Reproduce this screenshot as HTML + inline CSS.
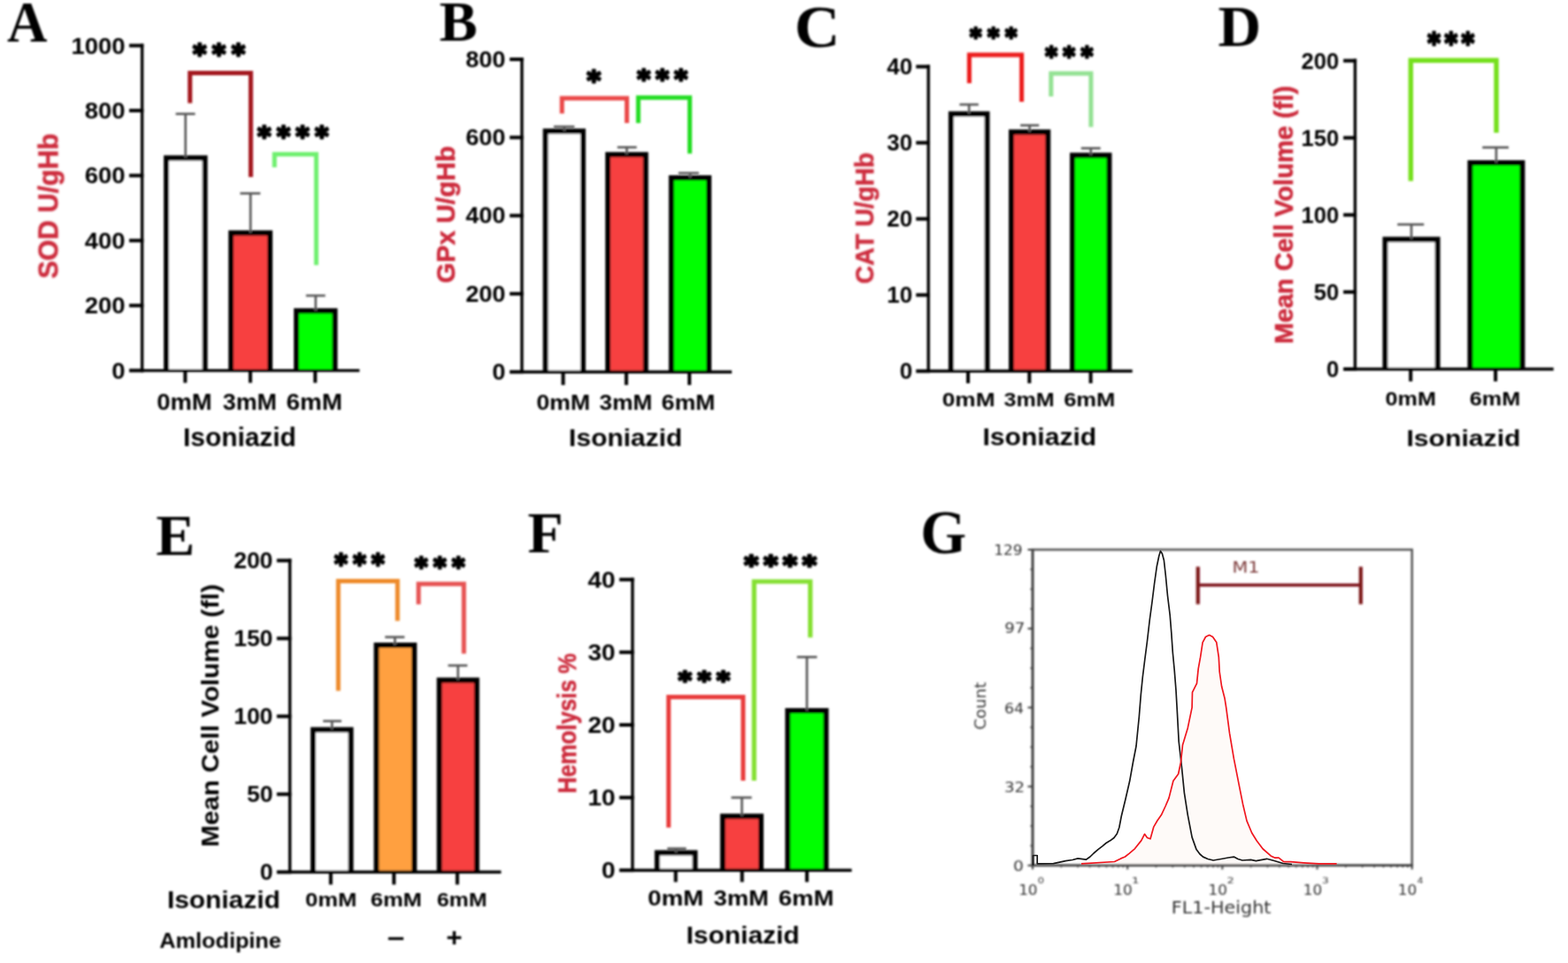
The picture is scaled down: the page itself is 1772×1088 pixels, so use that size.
<!DOCTYPE html>
<html><head><meta charset="utf-8"><title>Figure</title>
<style>
html,body{margin:0;padding:0;background:#fff;}
svg{display:block;}
</style></head>
<body>
<svg width="1772" height="1088" viewBox="0 0 1772 1088">
<defs><filter id="soft" x="0" y="0" width="1772" height="1088" filterUnits="userSpaceOnUse"><feGaussianBlur stdDeviation="0.9"/></filter></defs>
<rect width="1772" height="1088" fill="#fff"/>
<g filter="url(#soft)">
<text transform="translate(7.97,47.20) scale(0.9533,1)" style="font-family:'Liberation Serif', 'Times New Roman', serif;font-weight:bold;font-size:66.06px" fill="#000">A</text>
<text transform="translate(496.47,46.30) scale(1.0047,1)" style="font-family:'Liberation Serif', 'Times New Roman', serif;font-weight:bold;font-size:64.27px" fill="#000">B</text>
<text transform="translate(897.83,52.70) scale(1.0539,1)" style="font-family:'Liberation Serif', 'Times New Roman', serif;font-weight:bold;font-size:67.77px" fill="#000">C</text>
<text transform="translate(1376.62,51.80) scale(1.0327,1)" style="font-family:'Liberation Serif', 'Times New Roman', serif;font-weight:bold;font-size:65.34px" fill="#000">D</text>
<text transform="translate(176.15,627.00) scale(0.9975,1)" style="font-family:'Liberation Serif', 'Times New Roman', serif;font-weight:bold;font-size:66.11px" fill="#000">E</text>
<text transform="translate(596.15,624.20) scale(1.0081,1)" style="font-family:'Liberation Serif', 'Times New Roman', serif;font-weight:bold;font-size:65.34px" fill="#000">F</text>
<text transform="translate(1040.36,625.10) scale(0.9587,1)" style="font-family:'Liberation Serif', 'Times New Roman', serif;font-weight:bold;font-size:69.58px" fill="#000">G</text>
<text transform="translate(126.19,427.73) scale(1.0311,1)" style="font-family:'Liberation Sans', Arial, sans-serif;font-weight:bold;font-size:26.57px" fill="#000">0</text>
<text transform="translate(95.71,354.31) scale(1.0311,1)" style="font-family:'Liberation Sans', Arial, sans-serif;font-weight:bold;font-size:26.57px" fill="#000">200</text>
<text transform="translate(95.71,280.89) scale(1.0311,1)" style="font-family:'Liberation Sans', Arial, sans-serif;font-weight:bold;font-size:26.57px" fill="#000">400</text>
<text transform="translate(95.71,207.47) scale(1.0311,1)" style="font-family:'Liberation Sans', Arial, sans-serif;font-weight:bold;font-size:26.57px" fill="#000">600</text>
<text transform="translate(95.71,134.05) scale(1.0311,1)" style="font-family:'Liberation Sans', Arial, sans-serif;font-weight:bold;font-size:26.57px" fill="#000">800</text>
<text transform="translate(80.50,60.63) scale(1.0311,1)" style="font-family:'Liberation Sans', Arial, sans-serif;font-weight:bold;font-size:26.57px" fill="#000">1000</text>
<rect x="188.00" y="178.50" width="43.60" height="240.10" fill="#ffffff"/>
<path d="M188.00,418.60 V178.50 H231.60 V418.60" fill="none" stroke="#000" stroke-width="5.9" stroke-linejoin="miter"/>
<rect x="261.10" y="263.20" width="44.00" height="155.40" fill="#f7403f"/>
<path d="M261.10,418.60 V263.20 H305.10 V418.60" fill="none" stroke="#000" stroke-width="5.9" stroke-linejoin="miter"/>
<rect x="335.00" y="351.30" width="43.50" height="67.30" fill="#00ff00"/>
<path d="M335.00,418.60 V351.30 H378.50 V418.60" fill="none" stroke="#000" stroke-width="5.9" stroke-linejoin="miter"/>
<line x1="209.65" y1="178.30" x2="209.65" y2="128.70" stroke="#555555" stroke-width="2.6" stroke-linecap="butt"/>
<line x1="198.60" y1="128.70" x2="220.50" y2="128.70" stroke="#555555" stroke-width="2.6" stroke-linecap="butt"/>
<line x1="283.10" y1="263.20" x2="283.10" y2="218.50" stroke="#555555" stroke-width="2.6" stroke-linecap="butt"/>
<line x1="271.40" y1="218.50" x2="294.20" y2="218.50" stroke="#555555" stroke-width="2.6" stroke-linecap="butt"/>
<line x1="356.75" y1="351.30" x2="356.75" y2="334.00" stroke="#555555" stroke-width="2.6" stroke-linecap="butt"/>
<line x1="345.80" y1="334.00" x2="367.60" y2="334.00" stroke="#555555" stroke-width="2.6" stroke-linecap="butt"/>
<path d="M214.70,116.50 L214.70,82.60 L283.40,82.60 L283.40,200.00" stroke="#a3121c" stroke-width="5.0" fill="none" stroke-linejoin="miter" stroke-linecap="butt" />
<path d="M310.20,189.00 L310.20,174.20 L357.40,174.20 L357.40,299.40" stroke="#6ef06e" stroke-width="5.0" fill="none" stroke-linejoin="miter" stroke-linecap="butt" />
<text transform="translate(218.02,70.52) scale(1.0000,1)" style="font-family:'DejaVu Sans', Verdana, sans-serif;font-weight:bold;font-size:29.25px;letter-spacing:6.55px" fill="#000" stroke="#000" stroke-width="2.6" stroke-linejoin="round">***</text>
<text transform="translate(291.02,164.32) scale(1.0000,1)" style="font-family:'DejaVu Sans', Verdana, sans-serif;font-weight:bold;font-size:29.25px;letter-spacing:6.37px" fill="#000" stroke="#000" stroke-width="2.6" stroke-linejoin="round">****</text>
<text transform="translate(65.40,314.81) rotate(-90) scale(0.9773,1)" style="font-family:'Liberation Sans', Arial, sans-serif;font-weight:bold;font-size:31.17px" fill="#cc2c3c" stroke="#cc2c3c" stroke-width="0.5" stroke-linejoin="round">SOD U/gHb</text>
<text transform="translate(177.31,462.70) scale(1.0549,1)" style="font-family:'Liberation Sans', Arial, sans-serif;font-weight:bold;font-size:25.95px" fill="#000">0mM</text>
<text transform="translate(251.80,462.70) scale(1.0323,1)" style="font-family:'Liberation Sans', Arial, sans-serif;font-weight:bold;font-size:25.95px" fill="#000">3mM</text>
<text transform="translate(323.56,462.70) scale(1.0714,1)" style="font-family:'Liberation Sans', Arial, sans-serif;font-weight:bold;font-size:25.95px" fill="#000">6mM</text>
<text transform="translate(207.09,504.40) scale(1.0055,1)" style="font-family:'Liberation Sans', Arial, sans-serif;font-weight:bold;font-size:29.66px" fill="#000">Isoniazid</text>
<text transform="translate(556.20,429.09) scale(1.0431,1)" style="font-family:'Liberation Sans', Arial, sans-serif;font-weight:bold;font-size:25.87px" fill="#000">0</text>
<text transform="translate(526.19,340.79) scale(1.0431,1)" style="font-family:'Liberation Sans', Arial, sans-serif;font-weight:bold;font-size:25.87px" fill="#000">200</text>
<text transform="translate(526.19,252.49) scale(1.0431,1)" style="font-family:'Liberation Sans', Arial, sans-serif;font-weight:bold;font-size:25.87px" fill="#000">400</text>
<text transform="translate(526.19,164.19) scale(1.0431,1)" style="font-family:'Liberation Sans', Arial, sans-serif;font-weight:bold;font-size:25.87px" fill="#000">600</text>
<text transform="translate(526.19,75.89) scale(1.0431,1)" style="font-family:'Liberation Sans', Arial, sans-serif;font-weight:bold;font-size:25.87px" fill="#000">800</text>
<rect x="616.50" y="148.20" width="42.40" height="272.00" fill="#ffffff"/>
<path d="M616.50,420.20 V148.20 H658.90 V420.20" fill="none" stroke="#000" stroke-width="5.9" stroke-linejoin="miter"/>
<rect x="687.00" y="174.60" width="42.70" height="245.60" fill="#f7403f"/>
<path d="M687.00,420.20 V174.60 H729.70 V420.20" fill="none" stroke="#000" stroke-width="5.9" stroke-linejoin="miter"/>
<rect x="758.70" y="200.90" width="42.40" height="219.30" fill="#00ff00"/>
<path d="M758.70,420.20 V200.90 H801.10 V420.20" fill="none" stroke="#000" stroke-width="5.9" stroke-linejoin="miter"/>
<line x1="637.70" y1="148.20" x2="637.70" y2="143.10" stroke="#555555" stroke-width="2.6" stroke-linecap="butt"/>
<line x1="625.80" y1="143.10" x2="649.20" y2="143.10" stroke="#555555" stroke-width="2.6" stroke-linecap="butt"/>
<line x1="708.35" y1="174.60" x2="708.35" y2="166.40" stroke="#555555" stroke-width="2.6" stroke-linecap="butt"/>
<line x1="697.70" y1="166.40" x2="719.50" y2="166.40" stroke="#555555" stroke-width="2.6" stroke-linecap="butt"/>
<line x1="779.90" y1="200.90" x2="779.90" y2="195.50" stroke="#555555" stroke-width="2.6" stroke-linecap="butt"/>
<line x1="766.70" y1="195.50" x2="789.80" y2="195.50" stroke="#555555" stroke-width="2.6" stroke-linecap="butt"/>
<path d="M635.10,128.30 L635.10,111.10 L708.40,111.10 L708.40,139.10" stroke="#ea4646" stroke-width="5.0" fill="none" stroke-linejoin="miter" stroke-linecap="butt" />
<path d="M721.30,139.10 L721.30,110.30 L779.50,110.30 L779.50,173.50" stroke="#22dd22" stroke-width="5.0" fill="none" stroke-linejoin="miter" stroke-linecap="butt" />
<text transform="translate(663.20,101.35) scale(1.0000,1)" style="font-family:'DejaVu Sans', Verdana, sans-serif;font-weight:bold;font-size:30.11px;letter-spacing:0.00px" fill="#000" stroke="#000" stroke-width="2.6" stroke-linejoin="round">*</text>
<text transform="translate(719.92,99.40) scale(1.0000,1)" style="font-family:'DejaVu Sans', Verdana, sans-serif;font-weight:bold;font-size:28.82px;letter-spacing:5.98px" fill="#000" stroke="#000" stroke-width="2.6" stroke-linejoin="round">***</text>
<text transform="translate(514.10,319.89) rotate(-90) scale(1.0053,1)" style="font-family:'Liberation Sans', Arial, sans-serif;font-weight:bold;font-size:29.52px" fill="#cc2c3c" stroke="#cc2c3c" stroke-width="0.5" stroke-linejoin="round">GPx U/gHb</text>
<text transform="translate(606.13,463.20) scale(1.1211,1)" style="font-family:'Liberation Sans', Arial, sans-serif;font-weight:bold;font-size:23.80px" fill="#000">0mM</text>
<text transform="translate(677.31,463.20) scale(1.1064,1)" style="font-family:'Liberation Sans', Arial, sans-serif;font-weight:bold;font-size:23.80px" fill="#000">3mM</text>
<text transform="translate(747.60,463.20) scale(1.1198,1)" style="font-family:'Liberation Sans', Arial, sans-serif;font-weight:bold;font-size:23.80px" fill="#000">6mM</text>
<text transform="translate(642.87,504.10) scale(1.0511,1)" style="font-family:'Liberation Sans', Arial, sans-serif;font-weight:bold;font-size:28.55px" fill="#000">Isoniazid</text>
<text transform="translate(1016.63,428.43) scale(0.9770,1)" style="font-family:'Liberation Sans', Arial, sans-serif;font-weight:bold;font-size:26.57px" fill="#000">0</text>
<text transform="translate(1002.22,342.43) scale(0.9770,1)" style="font-family:'Liberation Sans', Arial, sans-serif;font-weight:bold;font-size:26.57px" fill="#000">10</text>
<text transform="translate(1002.22,256.43) scale(0.9770,1)" style="font-family:'Liberation Sans', Arial, sans-serif;font-weight:bold;font-size:26.57px" fill="#000">20</text>
<text transform="translate(1002.32,170.37) scale(0.9770,1)" style="font-family:'Liberation Sans', Arial, sans-serif;font-weight:bold;font-size:26.48px" fill="#000">30</text>
<text transform="translate(1002.22,84.43) scale(0.9770,1)" style="font-family:'Liberation Sans', Arial, sans-serif;font-weight:bold;font-size:26.57px" fill="#000">40</text>
<rect x="1074.80" y="128.80" width="40.70" height="290.50" fill="#ffffff"/>
<path d="M1074.80,419.30 V128.80 H1115.50 V419.30" fill="none" stroke="#000" stroke-width="5.9" stroke-linejoin="miter"/>
<rect x="1142.90" y="149.30" width="41.40" height="270.00" fill="#f7403f"/>
<path d="M1142.90,419.30 V149.30 H1184.30 V419.30" fill="none" stroke="#000" stroke-width="5.9" stroke-linejoin="miter"/>
<rect x="1212.00" y="175.50" width="41.50" height="243.80" fill="#00ff00"/>
<path d="M1212.00,419.30 V175.50 H1253.50 V419.30" fill="none" stroke="#000" stroke-width="5.9" stroke-linejoin="miter"/>
<line x1="1095.15" y1="128.80" x2="1095.15" y2="118.10" stroke="#555555" stroke-width="2.6" stroke-linecap="butt"/>
<line x1="1084.40" y1="118.10" x2="1105.80" y2="118.10" stroke="#555555" stroke-width="2.6" stroke-linecap="butt"/>
<line x1="1163.60" y1="149.30" x2="1163.60" y2="141.60" stroke="#555555" stroke-width="2.6" stroke-linecap="butt"/>
<line x1="1153.10" y1="141.60" x2="1174.20" y2="141.60" stroke="#555555" stroke-width="2.6" stroke-linecap="butt"/>
<line x1="1232.75" y1="175.50" x2="1232.75" y2="167.50" stroke="#555555" stroke-width="2.6" stroke-linecap="butt"/>
<line x1="1221.80" y1="167.50" x2="1243.70" y2="167.50" stroke="#555555" stroke-width="2.6" stroke-linecap="butt"/>
<path d="M1095.40,94.00 L1095.40,62.00 L1154.60,62.00 L1154.60,115.00" stroke="#ec1a1a" stroke-width="5.0" fill="none" stroke-linejoin="miter" stroke-linecap="butt" />
<path d="M1187.80,109.00 L1187.80,83.00 L1232.90,83.00 L1232.90,143.40" stroke="#93e293" stroke-width="5.0" fill="none" stroke-linejoin="miter" stroke-linecap="butt" />
<text transform="translate(1095.89,50.52) scale(0.9400,1)" style="font-family:'DejaVu Sans', Verdana, sans-serif;font-weight:bold;font-size:27.10px;letter-spacing:7.16px" fill="#000" stroke="#000" stroke-width="2.6" stroke-linejoin="round">***</text>
<text transform="translate(1181.17,72.56) scale(0.9400,1)" style="font-family:'DejaVu Sans', Verdana, sans-serif;font-weight:bold;font-size:27.96px;letter-spacing:6.77px" fill="#000" stroke="#000" stroke-width="2.6" stroke-linejoin="round">***</text>
<text transform="translate(987.20,320.74) rotate(-90) scale(0.9907,1)" style="font-family:'Liberation Sans', Arial, sans-serif;font-weight:bold;font-size:28.83px" fill="#cc2c3c" stroke="#cc2c3c" stroke-width="0.5" stroke-linejoin="round">CAT U/gHb</text>
<text transform="translate(1064.75,459.40) scale(1.1724,1)" style="font-family:'Liberation Sans', Arial, sans-serif;font-weight:bold;font-size:22.37px" fill="#000">0mM</text>
<text transform="translate(1134.54,459.40) scale(1.1201,1)" style="font-family:'Liberation Sans', Arial, sans-serif;font-weight:bold;font-size:22.37px" fill="#000">3mM</text>
<text transform="translate(1202.14,459.40) scale(1.1422,1)" style="font-family:'Liberation Sans', Arial, sans-serif;font-weight:bold;font-size:22.37px" fill="#000">6mM</text>
<text transform="translate(1110.47,502.80) scale(1.0700,1)" style="font-family:'Liberation Sans', Arial, sans-serif;font-weight:bold;font-size:28.14px" fill="#000">Isoniazid</text>
<text transform="translate(1499.04,426.13) scale(0.9618,1)" style="font-family:'Liberation Sans', Arial, sans-serif;font-weight:bold;font-size:26.57px" fill="#000">0</text>
<text transform="translate(1484.85,339.03) scale(0.9618,1)" style="font-family:'Liberation Sans', Arial, sans-serif;font-weight:bold;font-size:26.57px" fill="#000">50</text>
<text transform="translate(1470.61,251.93) scale(0.9618,1)" style="font-family:'Liberation Sans', Arial, sans-serif;font-weight:bold;font-size:26.57px" fill="#000">100</text>
<text transform="translate(1470.61,164.83) scale(0.9618,1)" style="font-family:'Liberation Sans', Arial, sans-serif;font-weight:bold;font-size:26.57px" fill="#000">150</text>
<text transform="translate(1470.61,77.73) scale(0.9618,1)" style="font-family:'Liberation Sans', Arial, sans-serif;font-weight:bold;font-size:26.57px" fill="#000">200</text>
<rect x="1565.40" y="270.50" width="59.20" height="146.50" fill="#ffffff"/>
<path d="M1565.40,417.00 V270.50 H1624.60 V417.00" fill="none" stroke="#000" stroke-width="5.9" stroke-linejoin="miter"/>
<rect x="1661.40" y="184.00" width="59.00" height="233.00" fill="#00ff00"/>
<path d="M1661.40,417.00 V184.00 H1720.40 V417.00" fill="none" stroke="#000" stroke-width="5.9" stroke-linejoin="miter"/>
<line x1="1595.00" y1="270.50" x2="1595.00" y2="253.60" stroke="#555555" stroke-width="2.6" stroke-linecap="butt"/>
<line x1="1579.20" y1="253.60" x2="1609.20" y2="253.60" stroke="#555555" stroke-width="2.6" stroke-linecap="butt"/>
<line x1="1690.90" y1="184.00" x2="1690.90" y2="166.60" stroke="#555555" stroke-width="2.6" stroke-linecap="butt"/>
<line x1="1675.20" y1="166.60" x2="1704.90" y2="166.60" stroke="#555555" stroke-width="2.6" stroke-linecap="butt"/>
<path d="M1594.30,204.40 L1594.30,68.30 L1691.00,68.30 L1691.00,150.10" stroke="#74e01c" stroke-width="5.4" fill="none" stroke-linejoin="miter" stroke-linecap="butt" />
<text transform="translate(1613.24,59.47) scale(0.8600,1)" style="font-family:'DejaVu Sans', Verdana, sans-serif;font-weight:bold;font-size:32.69px;letter-spacing:5.19px" fill="#000" stroke="#000" stroke-width="2.6" stroke-linejoin="round">***</text>
<text transform="translate(1460.70,388.76) rotate(-90) scale(1.0092,1)" style="font-family:'Liberation Sans', Arial, sans-serif;font-weight:bold;font-size:28.83px" fill="#cc2c3c" stroke="#cc2c3c" stroke-width="0.5" stroke-linejoin="round">Mean Cell Volume (fl)</text>
<text transform="translate(1565.59,458.10) scale(1.1250,1)" style="font-family:'Liberation Sans', Arial, sans-serif;font-weight:bold;font-size:22.37px" fill="#000">0mM</text>
<text transform="translate(1660.86,458.10) scale(1.1258,1)" style="font-family:'Liberation Sans', Arial, sans-serif;font-weight:bold;font-size:22.37px" fill="#000">6mM</text>
<text transform="translate(1589.46,503.60) scale(1.1882,1)" style="font-family:'Liberation Sans', Arial, sans-serif;font-weight:bold;font-size:25.38px" fill="#000">Isoniazid</text>
<text transform="translate(293.64,994.24) scale(1.0196,1)" style="font-family:'Liberation Sans', Arial, sans-serif;font-weight:bold;font-size:26.01px" fill="#000">0</text>
<text transform="translate(278.93,906.24) scale(1.0196,1)" style="font-family:'Liberation Sans', Arial, sans-serif;font-weight:bold;font-size:26.01px" fill="#000">50</text>
<text transform="translate(264.14,818.24) scale(1.0196,1)" style="font-family:'Liberation Sans', Arial, sans-serif;font-weight:bold;font-size:26.01px" fill="#000">100</text>
<text transform="translate(264.14,730.24) scale(1.0196,1)" style="font-family:'Liberation Sans', Arial, sans-serif;font-weight:bold;font-size:26.01px" fill="#000">150</text>
<text transform="translate(264.14,642.24) scale(1.0196,1)" style="font-family:'Liberation Sans', Arial, sans-serif;font-weight:bold;font-size:26.01px" fill="#000">200</text>
<rect x="353.90" y="824.50" width="42.60" height="160.80" fill="#ffffff"/>
<path d="M353.90,985.30 V824.50 H396.50 V985.30" fill="none" stroke="#000" stroke-width="5.9" stroke-linejoin="miter"/>
<rect x="425.40" y="729.00" width="42.80" height="256.30" fill="#ffa040"/>
<path d="M425.40,985.30 V729.00 H468.20 V985.30" fill="none" stroke="#000" stroke-width="5.9" stroke-linejoin="miter"/>
<rect x="496.50" y="768.50" width="42.30" height="216.80" fill="#f7403f"/>
<path d="M496.50,985.30 V768.50 H538.80 V985.30" fill="none" stroke="#000" stroke-width="5.9" stroke-linejoin="miter"/>
<line x1="375.20" y1="824.50" x2="375.20" y2="814.70" stroke="#555555" stroke-width="2.6" stroke-linecap="butt"/>
<line x1="365.10" y1="814.70" x2="385.90" y2="814.70" stroke="#555555" stroke-width="2.6" stroke-linecap="butt"/>
<line x1="446.30" y1="729.00" x2="446.30" y2="719.80" stroke="#555555" stroke-width="2.6" stroke-linecap="butt"/>
<line x1="435.10" y1="719.80" x2="457.20" y2="719.80" stroke="#555555" stroke-width="2.6" stroke-linecap="butt"/>
<line x1="517.60" y1="768.50" x2="517.60" y2="751.90" stroke="#555555" stroke-width="2.6" stroke-linecap="butt"/>
<line x1="506.40" y1="751.90" x2="528.20" y2="751.90" stroke="#555555" stroke-width="2.6" stroke-linecap="butt"/>
<path d="M382.30,780.60 L382.30,656.60 L449.20,656.60 L449.20,701.50" stroke="#ee8a2c" stroke-width="5.0" fill="none" stroke-linejoin="miter" stroke-linecap="butt" />
<path d="M473.00,682.70 L473.00,659.80 L524.20,659.80 L524.20,738.50" stroke="#e65252" stroke-width="5.0" fill="none" stroke-linejoin="miter" stroke-linecap="butt" />
<text transform="translate(378.04,647.04) scale(0.9500,1)" style="font-family:'DejaVu Sans', Verdana, sans-serif;font-weight:bold;font-size:29.68px;letter-spacing:6.48px" fill="#000" stroke="#000" stroke-width="2.6" stroke-linejoin="round">***</text>
<text transform="translate(468.84,649.60) scale(0.9700,1)" style="font-family:'DejaVu Sans', Verdana, sans-serif;font-weight:bold;font-size:28.82px;letter-spacing:6.48px" fill="#000" stroke="#000" stroke-width="2.6" stroke-linejoin="round">***</text>
<text transform="translate(246.90,956.90) rotate(-90) scale(1.0464,1)" style="font-family:'Liberation Sans', Arial, sans-serif;font-weight:bold;font-size:28.28px" fill="#000">Mean Cell Volume (fl)</text>
<text transform="translate(188.88,1026.30) scale(1.0890,1)" style="font-family:'Liberation Sans', Arial, sans-serif;font-weight:bold;font-size:27.45px" fill="#000">Isoniazid</text>
<text transform="translate(345.08,1023.70) scale(1.1715,1)" style="font-family:'Liberation Sans', Arial, sans-serif;font-weight:bold;font-size:21.79px" fill="#000">0mM</text>
<text transform="translate(418.74,1023.70) scale(1.1702,1)" style="font-family:'Liberation Sans', Arial, sans-serif;font-weight:bold;font-size:21.79px" fill="#000">6mM</text>
<text transform="translate(493.77,1023.70) scale(1.1406,1)" style="font-family:'Liberation Sans', Arial, sans-serif;font-weight:bold;font-size:21.79px" fill="#000">6mM</text>
<text transform="translate(180.37,1071.40) scale(1.0172,1)" style="font-family:'Liberation Sans', Arial, sans-serif;font-weight:bold;font-size:24.83px" fill="#000">Amlodipine</text>
<text transform="translate(437.76,1068.76) scale(1.0859,1)" style="font-family:'Liberation Sans', Arial, sans-serif;font-weight:bold;font-size:32.00px" fill="#000">–</text>
<text transform="translate(504.17,1068.99) scale(1.0920,1)" style="font-family:'Liberation Sans', Arial, sans-serif;font-weight:bold;font-size:28.57px" fill="#000">+</text>
<text transform="translate(679.79,992.14) scale(1.0830,1)" style="font-family:'Liberation Sans', Arial, sans-serif;font-weight:bold;font-size:26.01px" fill="#000">0</text>
<text transform="translate(664.16,910.04) scale(1.0830,1)" style="font-family:'Liberation Sans', Arial, sans-serif;font-weight:bold;font-size:26.01px" fill="#000">10</text>
<text transform="translate(664.16,827.94) scale(1.0830,1)" style="font-family:'Liberation Sans', Arial, sans-serif;font-weight:bold;font-size:26.01px" fill="#000">20</text>
<text transform="translate(664.27,745.78) scale(1.0830,1)" style="font-family:'Liberation Sans', Arial, sans-serif;font-weight:bold;font-size:25.92px" fill="#000">30</text>
<text transform="translate(664.16,663.74) scale(1.0830,1)" style="font-family:'Liberation Sans', Arial, sans-serif;font-weight:bold;font-size:26.01px" fill="#000">40</text>
<rect x="742.70" y="963.50" width="42.70" height="19.70" fill="#ffffff"/>
<path d="M742.70,983.20 V963.50 H785.40 V983.20" fill="none" stroke="#000" stroke-width="5.9" stroke-linejoin="miter"/>
<rect x="816.80" y="922.30" width="43.20" height="60.90" fill="#f7403f"/>
<path d="M816.80,983.20 V922.30 H860.00 V983.20" fill="none" stroke="#000" stroke-width="5.9" stroke-linejoin="miter"/>
<rect x="890.25" y="803.00" width="43.25" height="180.20" fill="#00ff00"/>
<path d="M890.25,983.20 V803.00 H933.50 V983.20" fill="none" stroke="#000" stroke-width="5.9" stroke-linejoin="miter"/>
<line x1="764.05" y1="963.50" x2="764.05" y2="958.70" stroke="#555555" stroke-width="2.6" stroke-linecap="butt"/>
<line x1="754.10" y1="958.70" x2="775.50" y2="958.70" stroke="#555555" stroke-width="2.6" stroke-linecap="butt"/>
<line x1="838.40" y1="922.30" x2="838.40" y2="901.10" stroke="#555555" stroke-width="2.6" stroke-linecap="butt"/>
<line x1="826.40" y1="901.10" x2="849.50" y2="901.10" stroke="#555555" stroke-width="2.6" stroke-linecap="butt"/>
<line x1="911.90" y1="803.00" x2="911.90" y2="742.30" stroke="#555555" stroke-width="2.6" stroke-linecap="butt"/>
<line x1="900.70" y1="742.30" x2="923.30" y2="742.30" stroke="#555555" stroke-width="2.6" stroke-linecap="butt"/>
<path d="M755.60,935.10 L755.60,787.50 L839.80,787.50 L839.80,881.90" stroke="#e83a3a" stroke-width="5.0" fill="none" stroke-linejoin="miter" stroke-linecap="butt" />
<path d="M852.20,881.90 L852.20,657.00 L915.70,657.00 L915.70,720.20" stroke="#84e032" stroke-width="5.2" fill="none" stroke-linejoin="miter" stroke-linecap="butt" />
<text transform="translate(766.52,778.24) scale(1.1000,1)" style="font-family:'DejaVu Sans', Verdana, sans-serif;font-weight:bold;font-size:26.45px;letter-spacing:5.83px" fill="#000" stroke="#000" stroke-width="2.6" stroke-linejoin="round">***</text>
<text transform="translate(841.08,647.64) scale(1.1200,1)" style="font-family:'DejaVu Sans', Verdana, sans-serif;font-weight:bold;font-size:27.53px;letter-spacing:5.14px" fill="#000" stroke="#000" stroke-width="2.6" stroke-linejoin="round">****</text>
<text transform="translate(651.10,896.53) rotate(-90) scale(0.8659,1)" style="font-family:'Liberation Sans', Arial, sans-serif;font-weight:bold;font-size:29.66px" fill="#cc2c3c" stroke="#cc2c3c" stroke-width="0.5" stroke-linejoin="round">Hemolysis %</text>
<text transform="translate(731.99,1023.10) scale(1.2019,1)" style="font-family:'Liberation Sans', Arial, sans-serif;font-weight:bold;font-size:23.08px" fill="#000">0mM</text>
<text transform="translate(806.59,1023.10) scale(1.1823,1)" style="font-family:'Liberation Sans', Arial, sans-serif;font-weight:bold;font-size:23.08px" fill="#000">3mM</text>
<text transform="translate(879.77,1023.10) scale(1.1905,1)" style="font-family:'Liberation Sans', Arial, sans-serif;font-weight:bold;font-size:23.08px" fill="#000">6mM</text>
<text transform="translate(775.48,1066.10) scale(1.1140,1)" style="font-family:'Liberation Sans', Arial, sans-serif;font-weight:bold;font-size:26.90px" fill="#000">Isoniazid</text>
<path d="M1222.0,975.8 L1259.5,973.5 L1266.8,969.9 L1271.4,968.0 L1276.0,964.3 L1282.5,958.8 L1289.8,949.6 L1293.5,942.3 L1296.5,946.5 L1300.0,947.8 L1303.7,934.4 L1308.0,927.0 L1312.4,920.8 L1317.0,911.0 L1321.0,901.6 L1325.9,882.3 L1331.6,874.5 L1334.5,861.0 L1336.5,841.7 L1342.3,822.4 L1347.1,799.3 L1347.5,782.1 L1352.5,772.1 L1354.2,755.6 L1356.6,742.4 L1359.1,725.8 L1362.5,719.5 L1366.6,717.5 L1370.5,719.5 L1374.8,725.8 L1377.3,742.4 L1378.2,759.0 L1380.6,775.5 L1384.0,788.7 L1385.7,799.3 L1389.5,828.2 L1394.4,857.2 L1400.1,886.1 L1404.5,908.2 L1409.0,927.4 L1414.7,941.0 L1420.3,950.0 L1427.1,959.0 L1436.1,966.9 L1441.0,969.2 L1445.1,969.2 L1450.8,973.7 L1458.7,973.7 L1473.4,974.8 L1490.3,975.9 L1510.6,975.9 L1510.6,977.8 L1222,977.8 Z" stroke="none" stroke-width="0" fill="#fefaf8" stroke-linejoin="miter" stroke-linecap="butt" />
<rect x="1167.0" y="621.0" width="428.7" height="356.8" fill="none" stroke="#555555" stroke-width="2.5"/>
<line x1="1167.00" y1="620.00" x2="1167.00" y2="978.80" stroke="#3c3c3c" stroke-width="2.6" stroke-linecap="butt"/>
<line x1="1166.00" y1="977.80" x2="1596.70" y2="977.80" stroke="#3c3c3c" stroke-width="2.6" stroke-linecap="butt"/>
<line x1="1161.50" y1="977.80" x2="1167.00" y2="977.80" stroke="#3c3c3c" stroke-width="2" stroke-linecap="butt"/>
<line x1="1164.50" y1="955.50" x2="1167.00" y2="955.50" stroke="#3c3c3c" stroke-width="1.8" stroke-linecap="butt"/>
<line x1="1164.50" y1="933.20" x2="1167.00" y2="933.20" stroke="#3c3c3c" stroke-width="1.8" stroke-linecap="butt"/>
<line x1="1164.50" y1="910.90" x2="1167.00" y2="910.90" stroke="#3c3c3c" stroke-width="1.8" stroke-linecap="butt"/>
<line x1="1161.50" y1="888.60" x2="1167.00" y2="888.60" stroke="#3c3c3c" stroke-width="2" stroke-linecap="butt"/>
<line x1="1164.50" y1="866.30" x2="1167.00" y2="866.30" stroke="#3c3c3c" stroke-width="1.8" stroke-linecap="butt"/>
<line x1="1164.50" y1="844.00" x2="1167.00" y2="844.00" stroke="#3c3c3c" stroke-width="1.8" stroke-linecap="butt"/>
<line x1="1164.50" y1="821.70" x2="1167.00" y2="821.70" stroke="#3c3c3c" stroke-width="1.8" stroke-linecap="butt"/>
<line x1="1161.50" y1="799.40" x2="1167.00" y2="799.40" stroke="#3c3c3c" stroke-width="2" stroke-linecap="butt"/>
<line x1="1164.50" y1="777.10" x2="1167.00" y2="777.10" stroke="#3c3c3c" stroke-width="1.8" stroke-linecap="butt"/>
<line x1="1164.50" y1="754.80" x2="1167.00" y2="754.80" stroke="#3c3c3c" stroke-width="1.8" stroke-linecap="butt"/>
<line x1="1164.50" y1="732.50" x2="1167.00" y2="732.50" stroke="#3c3c3c" stroke-width="1.8" stroke-linecap="butt"/>
<line x1="1161.50" y1="710.20" x2="1167.00" y2="710.20" stroke="#3c3c3c" stroke-width="2" stroke-linecap="butt"/>
<line x1="1164.50" y1="687.90" x2="1167.00" y2="687.90" stroke="#3c3c3c" stroke-width="1.8" stroke-linecap="butt"/>
<line x1="1164.50" y1="665.60" x2="1167.00" y2="665.60" stroke="#3c3c3c" stroke-width="1.8" stroke-linecap="butt"/>
<line x1="1164.50" y1="643.30" x2="1167.00" y2="643.30" stroke="#3c3c3c" stroke-width="1.8" stroke-linecap="butt"/>
<line x1="1161.50" y1="621.00" x2="1167.00" y2="621.00" stroke="#3c3c3c" stroke-width="2" stroke-linecap="butt"/>
<line x1="1167.00" y1="977.80" x2="1167.00" y2="982.30" stroke="#3c3c3c" stroke-width="2" stroke-linecap="butt"/>
<line x1="1199.26" y1="977.80" x2="1199.26" y2="980.00" stroke="#3c3c3c" stroke-width="1.6" stroke-linecap="butt"/>
<line x1="1218.14" y1="977.80" x2="1218.14" y2="980.00" stroke="#3c3c3c" stroke-width="1.6" stroke-linecap="butt"/>
<line x1="1231.53" y1="977.80" x2="1231.53" y2="980.00" stroke="#3c3c3c" stroke-width="1.6" stroke-linecap="butt"/>
<line x1="1241.91" y1="977.80" x2="1241.91" y2="980.00" stroke="#3c3c3c" stroke-width="1.6" stroke-linecap="butt"/>
<line x1="1250.40" y1="977.80" x2="1250.40" y2="980.00" stroke="#3c3c3c" stroke-width="1.6" stroke-linecap="butt"/>
<line x1="1257.57" y1="977.80" x2="1257.57" y2="980.00" stroke="#3c3c3c" stroke-width="1.6" stroke-linecap="butt"/>
<line x1="1263.79" y1="977.80" x2="1263.79" y2="980.00" stroke="#3c3c3c" stroke-width="1.6" stroke-linecap="butt"/>
<line x1="1269.27" y1="977.80" x2="1269.27" y2="980.00" stroke="#3c3c3c" stroke-width="1.6" stroke-linecap="butt"/>
<line x1="1274.17" y1="977.80" x2="1274.17" y2="982.30" stroke="#3c3c3c" stroke-width="2" stroke-linecap="butt"/>
<line x1="1306.44" y1="977.80" x2="1306.44" y2="980.00" stroke="#3c3c3c" stroke-width="1.6" stroke-linecap="butt"/>
<line x1="1325.31" y1="977.80" x2="1325.31" y2="980.00" stroke="#3c3c3c" stroke-width="1.6" stroke-linecap="butt"/>
<line x1="1338.70" y1="977.80" x2="1338.70" y2="980.00" stroke="#3c3c3c" stroke-width="1.6" stroke-linecap="butt"/>
<line x1="1349.09" y1="977.80" x2="1349.09" y2="980.00" stroke="#3c3c3c" stroke-width="1.6" stroke-linecap="butt"/>
<line x1="1357.57" y1="977.80" x2="1357.57" y2="980.00" stroke="#3c3c3c" stroke-width="1.6" stroke-linecap="butt"/>
<line x1="1364.75" y1="977.80" x2="1364.75" y2="980.00" stroke="#3c3c3c" stroke-width="1.6" stroke-linecap="butt"/>
<line x1="1370.96" y1="977.80" x2="1370.96" y2="980.00" stroke="#3c3c3c" stroke-width="1.6" stroke-linecap="butt"/>
<line x1="1376.45" y1="977.80" x2="1376.45" y2="980.00" stroke="#3c3c3c" stroke-width="1.6" stroke-linecap="butt"/>
<line x1="1381.35" y1="977.80" x2="1381.35" y2="982.30" stroke="#3c3c3c" stroke-width="2" stroke-linecap="butt"/>
<line x1="1413.61" y1="977.80" x2="1413.61" y2="980.00" stroke="#3c3c3c" stroke-width="1.6" stroke-linecap="butt"/>
<line x1="1432.49" y1="977.80" x2="1432.49" y2="980.00" stroke="#3c3c3c" stroke-width="1.6" stroke-linecap="butt"/>
<line x1="1445.88" y1="977.80" x2="1445.88" y2="980.00" stroke="#3c3c3c" stroke-width="1.6" stroke-linecap="butt"/>
<line x1="1456.26" y1="977.80" x2="1456.26" y2="980.00" stroke="#3c3c3c" stroke-width="1.6" stroke-linecap="butt"/>
<line x1="1464.75" y1="977.80" x2="1464.75" y2="980.00" stroke="#3c3c3c" stroke-width="1.6" stroke-linecap="butt"/>
<line x1="1471.92" y1="977.80" x2="1471.92" y2="980.00" stroke="#3c3c3c" stroke-width="1.6" stroke-linecap="butt"/>
<line x1="1478.14" y1="977.80" x2="1478.14" y2="980.00" stroke="#3c3c3c" stroke-width="1.6" stroke-linecap="butt"/>
<line x1="1483.62" y1="977.80" x2="1483.62" y2="980.00" stroke="#3c3c3c" stroke-width="1.6" stroke-linecap="butt"/>
<line x1="1488.53" y1="977.80" x2="1488.53" y2="982.30" stroke="#3c3c3c" stroke-width="2" stroke-linecap="butt"/>
<line x1="1520.79" y1="977.80" x2="1520.79" y2="980.00" stroke="#3c3c3c" stroke-width="1.6" stroke-linecap="butt"/>
<line x1="1539.66" y1="977.80" x2="1539.66" y2="980.00" stroke="#3c3c3c" stroke-width="1.6" stroke-linecap="butt"/>
<line x1="1553.05" y1="977.80" x2="1553.05" y2="980.00" stroke="#3c3c3c" stroke-width="1.6" stroke-linecap="butt"/>
<line x1="1563.44" y1="977.80" x2="1563.44" y2="980.00" stroke="#3c3c3c" stroke-width="1.6" stroke-linecap="butt"/>
<line x1="1571.92" y1="977.80" x2="1571.92" y2="980.00" stroke="#3c3c3c" stroke-width="1.6" stroke-linecap="butt"/>
<line x1="1579.10" y1="977.80" x2="1579.10" y2="980.00" stroke="#3c3c3c" stroke-width="1.6" stroke-linecap="butt"/>
<line x1="1585.31" y1="977.80" x2="1585.31" y2="980.00" stroke="#3c3c3c" stroke-width="1.6" stroke-linecap="butt"/>
<line x1="1590.80" y1="977.80" x2="1590.80" y2="980.00" stroke="#3c3c3c" stroke-width="1.6" stroke-linecap="butt"/>
<line x1="1595.70" y1="977.80" x2="1595.70" y2="982.30" stroke="#3c3c3c" stroke-width="2" stroke-linecap="butt"/>
<line x1="1353.80" y1="661.00" x2="1537.80" y2="661.00" stroke="#7d1418" stroke-width="3.4" stroke-linecap="butt"/>
<line x1="1353.80" y1="640.30" x2="1353.80" y2="682.60" stroke="#7d1418" stroke-width="4.2" stroke-linecap="butt"/>
<line x1="1537.80" y1="640.30" x2="1537.80" y2="682.60" stroke="#7d1418" stroke-width="4.2" stroke-linecap="butt"/>
<text transform="translate(1392.38,647.20) scale(1.1617,1)" style="font-family:'DejaVu Sans', Verdana, sans-serif;font-weight:normal;font-size:17.81px" fill="#7c3a3a">M1</text>
<text transform="translate(1123.34,627.15) scale(1.1256,1)" style="font-family:'DejaVu Sans', Verdana, sans-serif;font-weight:normal;font-size:15.02px" fill="#333333">129</text>
<text transform="translate(1135.17,715.15) scale(1.2075,1)" style="font-family:'DejaVu Sans', Verdana, sans-serif;font-weight:normal;font-size:15.02px" fill="#333333">97</text>
<text transform="translate(1135.09,805.65) scale(1.1548,1)" style="font-family:'DejaVu Sans', Verdana, sans-serif;font-weight:normal;font-size:15.02px" fill="#333333">64</text>
<text transform="translate(1134.94,895.15) scale(1.2075,1)" style="font-family:'DejaVu Sans', Verdana, sans-serif;font-weight:normal;font-size:15.02px" fill="#333333">32</text>
<text transform="translate(1145.09,983.65) scale(1.2395,1)" style="font-family:'DejaVu Sans', Verdana, sans-serif;font-weight:normal;font-size:15.02px" fill="#333333">0</text>
<text transform="translate(1151.15,1010.85) scale(1.1027,1)" style="font-family:'DejaVu Sans', Verdana, sans-serif;font-weight:normal;font-size:15.29px" fill="#333333">10</text>
<text transform="translate(1172.65,997.70) scale(1.3754,1)" style="font-family:'DejaVu Sans', Verdana, sans-serif;font-weight:normal;font-size:8.35px" fill="#333333">0</text>
<text transform="translate(1258.32,1010.85) scale(1.1027,1)" style="font-family:'DejaVu Sans', Verdana, sans-serif;font-weight:normal;font-size:15.29px" fill="#333333">10</text>
<text transform="translate(1279.11,997.70) scale(1.5699,1)" style="font-family:'DejaVu Sans', Verdana, sans-serif;font-weight:normal;font-size:8.49px" fill="#333333">1</text>
<text transform="translate(1365.50,1010.85) scale(1.1027,1)" style="font-family:'DejaVu Sans', Verdana, sans-serif;font-weight:normal;font-size:15.29px" fill="#333333">10</text>
<text transform="translate(1386.84,997.70) scale(1.5018,1)" style="font-family:'DejaVu Sans', Verdana, sans-serif;font-weight:normal;font-size:8.35px" fill="#333333">2</text>
<text transform="translate(1472.67,1010.85) scale(1.1027,1)" style="font-family:'DejaVu Sans', Verdana, sans-serif;font-weight:normal;font-size:15.29px" fill="#333333">10</text>
<text transform="translate(1494.02,997.70) scale(1.4471,1)" style="font-family:'DejaVu Sans', Verdana, sans-serif;font-weight:normal;font-size:8.35px" fill="#333333">3</text>
<text transform="translate(1579.85,1010.85) scale(1.1027,1)" style="font-family:'DejaVu Sans', Verdana, sans-serif;font-weight:normal;font-size:15.29px" fill="#333333">10</text>
<text transform="translate(1601.55,997.70) scale(1.2885,1)" style="font-family:'DejaVu Sans', Verdana, sans-serif;font-weight:normal;font-size:8.49px" fill="#333333">4</text>
<text transform="translate(1114.10,824.60) rotate(-90) scale(1.0066,1)" style="font-family:'DejaVu Sans', Verdana, sans-serif;font-weight:normal;font-size:18.05px" fill="#333">Count</text>
<text transform="translate(1323.78,1032.20) scale(1.0372,1)" style="font-family:'DejaVu Sans', Verdana, sans-serif;font-weight:normal;font-size:20.00px" fill="#333">FL1-Height</text>
<line x1="160.60" y1="49.50" x2="160.60" y2="420.30" stroke="#000" stroke-width="3.4"/>
<line x1="146.00" y1="418.60" x2="162.30" y2="418.60" stroke="#000" stroke-width="4.0"/>
<line x1="146.00" y1="345.18" x2="162.30" y2="345.18" stroke="#000" stroke-width="4.0"/>
<line x1="146.00" y1="271.76" x2="162.30" y2="271.76" stroke="#000" stroke-width="4.0"/>
<line x1="146.00" y1="198.34" x2="162.30" y2="198.34" stroke="#000" stroke-width="4.0"/>
<line x1="146.00" y1="124.92" x2="162.30" y2="124.92" stroke="#000" stroke-width="4.0"/>
<line x1="146.00" y1="51.50" x2="162.30" y2="51.50" stroke="#000" stroke-width="4.0"/>
<line x1="158.90" y1="418.60" x2="406.30" y2="418.60" stroke="#000" stroke-width="3.4"/>
<line x1="209.30" y1="418.60" x2="209.30" y2="432.50" stroke="#000" stroke-width="4.0"/>
<line x1="282.90" y1="418.60" x2="282.90" y2="432.50" stroke="#000" stroke-width="4.0"/>
<line x1="356.20" y1="418.60" x2="356.20" y2="432.50" stroke="#000" stroke-width="4.0"/>
<line x1="589.80" y1="65.00" x2="589.80" y2="421.90" stroke="#000" stroke-width="3.4"/>
<line x1="576.00" y1="420.20" x2="591.50" y2="420.20" stroke="#000" stroke-width="4.0"/>
<line x1="576.00" y1="331.90" x2="591.50" y2="331.90" stroke="#000" stroke-width="4.0"/>
<line x1="576.00" y1="243.60" x2="591.50" y2="243.60" stroke="#000" stroke-width="4.0"/>
<line x1="576.00" y1="155.30" x2="591.50" y2="155.30" stroke="#000" stroke-width="4.0"/>
<line x1="576.00" y1="67.00" x2="591.50" y2="67.00" stroke="#000" stroke-width="4.0"/>
<line x1="588.10" y1="420.20" x2="827.00" y2="420.20" stroke="#000" stroke-width="3.4"/>
<line x1="636.40" y1="420.20" x2="636.40" y2="435.00" stroke="#000" stroke-width="4.0"/>
<line x1="707.80" y1="420.20" x2="707.80" y2="435.00" stroke="#000" stroke-width="4.0"/>
<line x1="779.10" y1="420.20" x2="779.10" y2="435.00" stroke="#000" stroke-width="4.0"/>
<line x1="1049.20" y1="73.30" x2="1049.20" y2="421.00" stroke="#000" stroke-width="3.4"/>
<line x1="1035.20" y1="419.30" x2="1050.90" y2="419.30" stroke="#000" stroke-width="4.0"/>
<line x1="1035.20" y1="333.30" x2="1050.90" y2="333.30" stroke="#000" stroke-width="4.0"/>
<line x1="1035.20" y1="247.30" x2="1050.90" y2="247.30" stroke="#000" stroke-width="4.0"/>
<line x1="1035.20" y1="161.30" x2="1050.90" y2="161.30" stroke="#000" stroke-width="4.0"/>
<line x1="1035.20" y1="75.30" x2="1050.90" y2="75.30" stroke="#000" stroke-width="4.0"/>
<line x1="1047.50" y1="419.30" x2="1279.70" y2="419.30" stroke="#000" stroke-width="3.4"/>
<line x1="1094.00" y1="419.30" x2="1094.00" y2="433.00" stroke="#000" stroke-width="4.0"/>
<line x1="1163.30" y1="419.30" x2="1163.30" y2="433.00" stroke="#000" stroke-width="4.0"/>
<line x1="1232.60" y1="419.30" x2="1232.60" y2="433.00" stroke="#000" stroke-width="4.0"/>
<line x1="1531.40" y1="66.60" x2="1531.40" y2="418.70" stroke="#000" stroke-width="3.4"/>
<line x1="1518.10" y1="417.00" x2="1533.10" y2="417.00" stroke="#000" stroke-width="4.0"/>
<line x1="1518.10" y1="329.90" x2="1533.10" y2="329.90" stroke="#000" stroke-width="4.0"/>
<line x1="1518.10" y1="242.80" x2="1533.10" y2="242.80" stroke="#000" stroke-width="4.0"/>
<line x1="1518.10" y1="155.70" x2="1533.10" y2="155.70" stroke="#000" stroke-width="4.0"/>
<line x1="1518.10" y1="68.60" x2="1533.10" y2="68.60" stroke="#000" stroke-width="4.0"/>
<line x1="1529.70" y1="417.00" x2="1755.70" y2="417.00" stroke="#000" stroke-width="3.4"/>
<line x1="1594.20" y1="417.00" x2="1594.20" y2="430.90" stroke="#000" stroke-width="4.0"/>
<line x1="1690.10" y1="417.00" x2="1690.10" y2="430.90" stroke="#000" stroke-width="4.0"/>
<line x1="327.60" y1="631.30" x2="327.60" y2="987.00" stroke="#000" stroke-width="3.4"/>
<line x1="312.80" y1="985.30" x2="329.30" y2="985.30" stroke="#000" stroke-width="4.0"/>
<line x1="312.80" y1="897.30" x2="329.30" y2="897.30" stroke="#000" stroke-width="4.0"/>
<line x1="312.80" y1="809.30" x2="329.30" y2="809.30" stroke="#000" stroke-width="4.0"/>
<line x1="312.80" y1="721.30" x2="329.30" y2="721.30" stroke="#000" stroke-width="4.0"/>
<line x1="312.80" y1="633.30" x2="329.30" y2="633.30" stroke="#000" stroke-width="4.0"/>
<line x1="325.90" y1="985.30" x2="566.30" y2="985.30" stroke="#000" stroke-width="3.4"/>
<line x1="373.80" y1="985.30" x2="373.80" y2="999.40" stroke="#000" stroke-width="4.0"/>
<line x1="445.20" y1="985.30" x2="445.20" y2="999.40" stroke="#000" stroke-width="4.0"/>
<line x1="516.80" y1="985.30" x2="516.80" y2="999.40" stroke="#000" stroke-width="4.0"/>
<line x1="714.80" y1="652.80" x2="714.80" y2="984.90" stroke="#000" stroke-width="3.4"/>
<line x1="699.90" y1="983.20" x2="716.50" y2="983.20" stroke="#000" stroke-width="4.0"/>
<line x1="699.90" y1="901.10" x2="716.50" y2="901.10" stroke="#000" stroke-width="4.0"/>
<line x1="699.90" y1="819.00" x2="716.50" y2="819.00" stroke="#000" stroke-width="4.0"/>
<line x1="699.90" y1="736.90" x2="716.50" y2="736.90" stroke="#000" stroke-width="4.0"/>
<line x1="699.90" y1="654.80" x2="716.50" y2="654.80" stroke="#000" stroke-width="4.0"/>
<line x1="713.10" y1="983.20" x2="962.50" y2="983.20" stroke="#000" stroke-width="3.4"/>
<line x1="763.60" y1="983.20" x2="763.60" y2="996.50" stroke="#000" stroke-width="4.0"/>
<line x1="838.60" y1="983.20" x2="838.60" y2="996.50" stroke="#000" stroke-width="4.0"/>
<line x1="911.90" y1="983.20" x2="911.90" y2="996.50" stroke="#000" stroke-width="4.0"/>
</g>
<g>
<path d="M1167.5,977.5 L1167.5,966.5 L1172.2,966.5 L1172.2,975.8 L1176.8,975.8 L1190.5,975.6 L1204.3,972.6 L1212.0,971.5 L1218.1,969.9 L1227.3,971.2 L1231.9,968.0 L1236.0,964.0 L1241.1,959.7 L1245.7,956.1 L1250.0,952.5 L1254.9,949.6 L1259.0,946.5 L1262.3,942.0 L1264.8,935.0 L1267.3,922.0 L1271.8,903.5 L1276.7,882.3 L1280.5,861.0 L1284.0,843.0 L1287.3,810.0 L1289.3,785.0 L1291.3,765.0 L1293.8,745.0 L1296.4,725.0 L1299.3,700.0 L1302.0,680.0 L1304.5,660.0 L1307.3,640.0 L1309.8,628.0 L1311.5,622.6 L1313.4,625.5 L1315.4,633.0 L1317.3,650.0 L1319.5,673.0 L1322.2,695.0 L1323.8,715.0 L1325.3,737.0 L1327.2,757.0 L1329.0,780.0 L1330.3,803.0 L1332.2,838.0 L1335.5,867.0 L1338.4,895.8 L1342.3,920.8 L1347.1,945.9 L1351.9,959.4 L1356.0,965.0 L1359.6,968.1 L1365.0,970.5 L1371.2,972.0 L1377.0,971.0 L1382.8,970.0 L1388.0,969.0 L1394.4,968.1 L1399.0,970.5 L1404.0,972.0 L1413.5,971.4 L1419.4,972.6 L1431.6,970.3 L1440.0,972.5 L1450.0,975.5 L1460.0,976.5" stroke="#1a1a1a" stroke-width="1.7" fill="none" stroke-linejoin="round"/>
<path d="M1222.0,975.8 L1259.5,973.5 L1266.8,969.9 L1271.4,968.0 L1276.0,964.3 L1282.5,958.8 L1289.8,949.6 L1293.5,942.3 L1296.5,946.5 L1300.0,947.8 L1303.7,934.4 L1308.0,927.0 L1312.4,920.8 L1317.0,911.0 L1321.0,901.6 L1325.9,882.3 L1331.6,874.5 L1334.5,861.0 L1336.5,841.7 L1342.3,822.4 L1347.1,799.3 L1347.5,782.1 L1352.5,772.1 L1354.2,755.6 L1356.6,742.4 L1359.1,725.8 L1362.5,719.5 L1366.6,717.5 L1370.5,719.5 L1374.8,725.8 L1377.3,742.4 L1378.2,759.0 L1380.6,775.5 L1384.0,788.7 L1385.7,799.3 L1389.5,828.2 L1394.4,857.2 L1400.1,886.1 L1404.5,908.2 L1409.0,927.4 L1414.7,941.0 L1420.3,950.0 L1427.1,959.0 L1436.1,966.9 L1441.0,969.2 L1445.1,969.2 L1450.8,973.7 L1458.7,973.7 L1473.4,974.8 L1490.3,975.9 L1510.6,975.9" stroke="#f01820" stroke-width="1.7" fill="none" stroke-linejoin="round"/>
</g>
</svg>
</body></html>
